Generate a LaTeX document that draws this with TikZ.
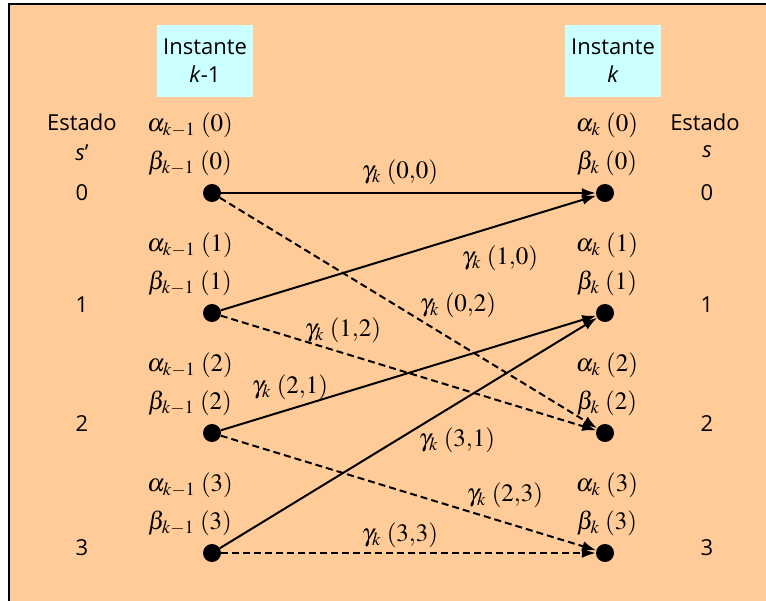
\documentclass[tikz,border=0pt]{standalone}
\usepackage{mathptmx}
\usepackage{fontspec}
\setmainfont{Open Sans}
\usetikzlibrary{arrows.meta}
\definecolor{fondo}{HTML}{FFCC99}
\definecolor{celeste}{HTML}{CCFFFF}
\tikzset{
  punto/.style={circle,fill=black,inner sep=0pt,minimum size=18pt},
  texto/.style={font=\fontsize{22}{26}\selectfont,inner sep=0pt},
  metrica/.style={font=\fontsize{25}{29}\selectfont,inner sep=0pt},
  instante/.style={fill=celeste,minimum width=96pt,minimum height=72pt,inner sep=0pt,
    align=center,font=\fontsize{22}{30}\selectfont},
  paso/.style={-{Latex[length=14pt,width=10pt]},line width=2pt},
  pasodash/.style={paso,dash pattern=on 7pt off 4pt}
}
\begin{document}
\begin{tikzpicture}[x=1pt,y=-1pt]
        \useasboundingbox (0,0) rectangle (766,601);
        % fondo
        \fill[fondo] (9,4) rectangle (766,601);
        \draw[line width=2.5pt] (9,601) -- (9,4) -- (766,4);
        % instantes
        \node[instante] (instA) at (205,61) {Instante\\[-2pt]\textit{k}-1};
        \node[instante] (instB) at (613,61) {Instante\\[-2pt]\textit{k}};
        % estados
        \node[texto] (estA) at (82,122) {Estado};
        \node[texto] (sA) at (82,153) {\textit{s}'};
        \node[texto] (estB) at (705,122) {Estado};
        \node[texto] (sB) at (707,152) {\textit{s}};
        \foreach \i/\y in {0/193,1/305,2/424,3/548}{
          \node[texto] (numA\i) at (82,\y) {\i};
          \node[texto] (numB\i) at (707,\y) {\i};
        }
        % puntos y metricas
        \foreach \i in {0,1,2,3}{
          \node[punto] (l\i) at (212,193+120*\i) {};
          \node[punto] (r\i) at (605,193+120*\i) {};
          \node[metrica] (alA\i) at (190,125+120*\i) {$\alpha_{k-1}\;(\i)$};
          \node[metrica] (beA\i) at (190,163+120*\i) {$\beta_{k-1}\;(\i)$};
          \node[metrica] (alB\i) at (607,125+120*\i) {$\alpha_{k}\;(\i)$};
          \node[metrica] (beB\i) at (607,163+120*\i) {$\beta_{k}\;(\i)$};
        }
        % transiciones
        \draw[paso] (l0) -- (r0);
        \draw[paso] (l1) -- (r0);
        \draw[pasodash] (l0) -- (r2);
        \draw[pasodash] (l1) -- (r2);
        \draw[paso] (l2) -- (r1);
        \draw[paso] (l3) -- (r1);
        \draw[pasodash] (l2) -- (r3);
        \draw[pasodash] (l3) -- (r3);
        % gammas
        \node[metrica] (g00) at (400,172) {$\gamma_k\;(0{,}0)$};
        \node[metrica] (g10) at (500,258) {$\gamma_k\;(1{,}0)$};
        \node[metrica] (g02) at (458,305) {$\gamma_k\;(0{,}2)$};
        \node[metrica] (g12) at (343,330) {$\gamma_k\;(1{,}2)$};
        \node[metrica] (g21) at (290,387) {$\gamma_k\;(2{,}1)$};
        \node[metrica] (g31) at (457,440) {$\gamma_k\;(3{,}1)$};
        \node[metrica] (g23) at (505,495) {$\gamma_k\;(2{,}3)$};
        \node[metrica] (g33) at (400,535) {$\gamma_k\;(3{,}3)$};
\end{tikzpicture}
\end{document}
